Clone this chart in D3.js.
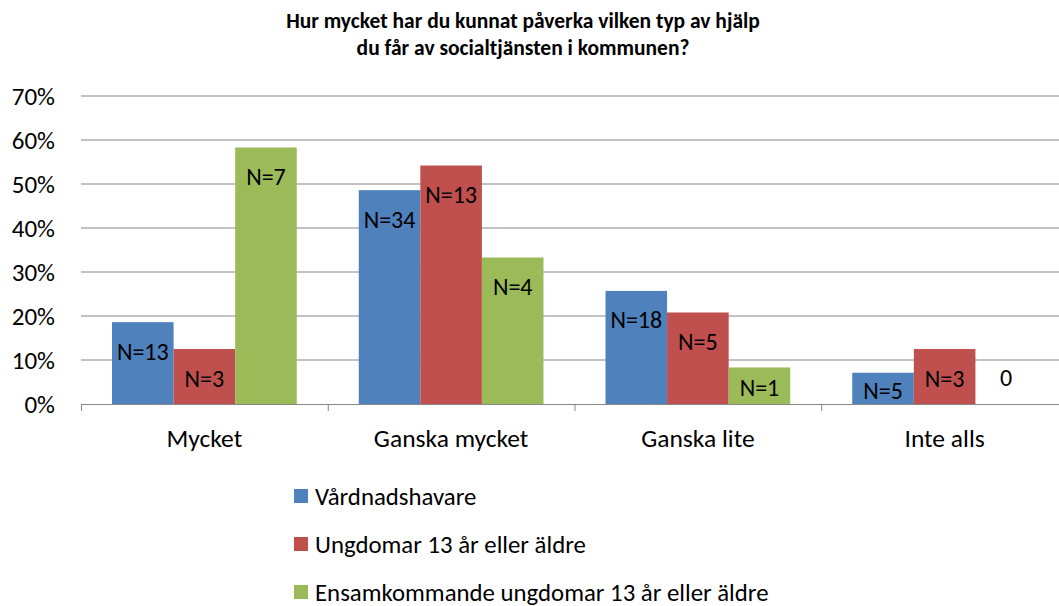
<!DOCTYPE html>
<html>
<head>
<meta charset="utf-8">
<script src="https://cdn.jsdelivr.net/npm/d3@7"></script>
<style>
  body { margin: 0; background: #fff; }
  text { font-family: Carlito, Calibri, Lato, sans-serif; fill: #000; }
</style>
</head>
<body>
<script>
const width = 1059;
const height = 606;

const title = ["Hur mycket har du kunnat påverka vilken typ av hjälp",
               "du får av socialtjänsten i kommunen?"];
const categories = ["Mycket", "Ganska mycket", "Ganska lite", "Inte alls"];
const seriesNames = ["Vårdnadshavare", "Ungdomar 13 år eller äldre", "Ensamkommande ungdomar 13 år eller äldre"];
const colors = ["#4F81BD", "#C0504D", "#9BBB59"];
// share of answers per category, one list per series
const vardnadshavare = [0.186, 0.486, 0.257, 0.071];
const ungdomar = [0.125, 0.542, 0.208, 0.125];
const ensamkommande = [0.583, 0.333, 0.083, 0];
// number of answers behind each bar
const nVardnadshavare = [13, 34, 18, 5];
const nUngdomar = [3, 13, 5, 3];
const nEnsamkommande = [7, 4, 1, 0];
const yTicks = [0, 0.1, 0.2, 0.3, 0.4, 0.5, 0.6, 0.7];

const values = [vardnadshavare, ungdomar, ensamkommande];
const counts = [nVardnadshavare, nUngdomar, nEnsamkommande];

const plot = { left: 81, right: 1068, top: 96, bottom: 404 };

const svg = d3.select("body").append("svg")
  .attr("width", width).attr("height", height)
  .attr("xmlns", "http://www.w3.org/2000/svg");

const x0 = d3.scaleBand().domain(categories).range([plot.left, plot.right]);
const x1 = d3.scaleBand().domain(d3.range(seriesNames.length))
  .range([31, x0.bandwidth() - 31]);
const y = d3.scaleLinear().domain([0, 0.7]).range([plot.bottom, plot.top]);

// title
svg.append("text")
  .attr("x", 523).attr("y", 28)
  .attr("text-anchor", "middle")
  .attr("font-size", "21.5px").attr("font-weight", "bold")
  .selectAll("tspan").data(title).enter().append("tspan")
  .attr("x", 523).attr("dy", (d, i) => i ? 27 : 0)
  .text(d => d);

// gridlines
svg.append("g").selectAll("line")
  .data(yTicks.filter(d => d > 0)).enter().append("line")
  .attr("x1", plot.left).attr("x2", width)
  .attr("y1", d => y(d)).attr("y2", d => y(d))
  .attr("stroke", "#868686").attr("stroke-width", 1);

// y axis labels
svg.append("g").selectAll("text")
  .data(yTicks).enter().append("text")
  .attr("x", 55).attr("y", d => y(d))
  .attr("text-anchor", "end").attr("dominant-baseline", "central")
  .attr("font-size", "25px")
  .text(d => d3.format(".0%")(d));

// bars
const groups = svg.append("g").selectAll("g")
  .data(categories).enter().append("g")
  .attr("transform", d => `translate(${x0(d)},0)`);

groups.selectAll("rect")
  .data((d, ci) => values.map((s, si) => ({ si, v: s[ci], n: counts[si][ci] })))
  .enter().append("rect")
  .attr("x", d => x1(d.si))
  .attr("width", x1.bandwidth())
  .attr("y", d => y(d.v))
  .attr("height", d => plot.bottom - y(d.v))
  .attr("fill", d => colors[d.si]);

// data labels
groups.selectAll("text")
  .data((d, ci) => values.map((s, si) => ({ si, v: s[ci], n: counts[si][ci] })))
  .enter().append("text")
  .attr("x", d => x1(d.si) + x1.bandwidth() / 2)
  .attr("y", d => {
    const top = y(d.v);
    if (d.v === 0) return plot.bottom - 27;
    return Math.min(top + 29, (top + plot.bottom) / 2 + 2);
  })
  .attr("text-anchor", "middle").attr("dominant-baseline", "central")
  .attr("font-size", "24px")
  .text(d => d.v === 0 ? "0" : "N=" + d.n);

// x axis
const axis = svg.append("g");
axis.append("line")
  .attr("x1", plot.left).attr("x2", width)
  .attr("y1", plot.bottom + 0.5).attr("y2", plot.bottom + 0.5)
  .attr("stroke", "#868686");
axis.selectAll("line.tick")
  .data(d3.range(categories.length + 1)).enter().append("line")
  .attr("class", "tick")
  .attr("x1", i => plot.left + i * x0.bandwidth() + 0.5)
  .attr("x2", i => plot.left + i * x0.bandwidth() + 0.5)
  .attr("y1", plot.bottom).attr("y2", plot.bottom + 7)
  .attr("stroke", "#868686");
axis.selectAll("text")
  .data(categories).enter().append("text")
  .attr("x", d => x0(d) + x0.bandwidth() / 2)
  .attr("y", 447)
  .attr("text-anchor", "middle")
  .attr("font-size", "25.5px")
  .text(d => d);

// legend
const legend = svg.append("g").selectAll("g")
  .data(seriesNames).enter().append("g")
  .attr("transform", (d, i) => `translate(294,${496 + i * 48})`);
legend.append("rect")
  .attr("x", 0).attr("y", -7).attr("width", 14).attr("height", 14)
  .attr("fill", (d, i) => colors[i]);
legend.append("text")
  .attr("x", 21).attr("y", 0)
  .attr("dominant-baseline", "central")
  .attr("font-size", "24.8px")
  .text(d => d);
</script>
</body>
</html>
